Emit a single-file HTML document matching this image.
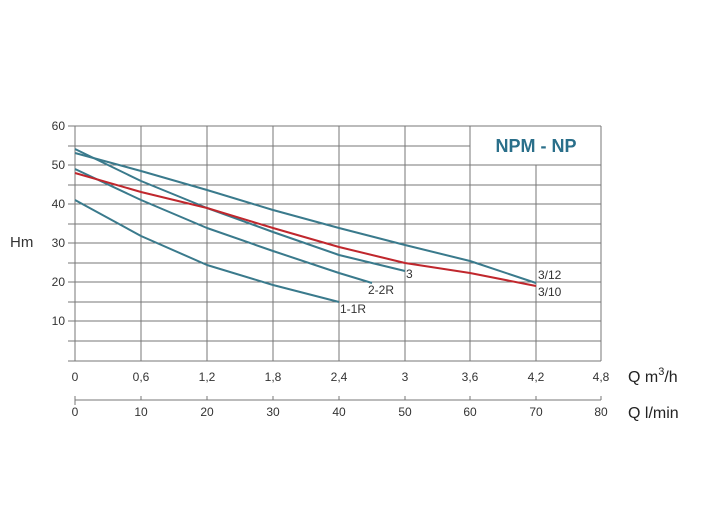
<!DOCTYPE html>
<html><head><meta charset="utf-8"><style>body{margin:0;background:#fff}svg{display:block;font-family:"Liberation Sans",sans-serif}</style></head><body>
<svg width="704" height="528" viewBox="0 0 704 528">
<g stroke="#777" stroke-width="1" fill="none">
<path d="M68 126H601M68 146H470M68 165H601M68 185H601M68 204H601M68 224H601M68 243H601M68 263H601M68 282H601M68 302H601M68 321H601M68 341H601M68 361H601"/>
<path d="M75 126V361M141 126V361M207 126V361M273 126V361M339 126V361M405 126V361M470 126V361M536 165V361M601 126V361"/>
<path d="M75 400H601M75 396V405M141 396V400M207 396V400M273 396V400M339 396V400M405 396V400M470 396V400M536 396V400M601 396V400"/>
</g>
<g font-size="12" fill="#333" text-anchor="end">
<text x="65" y="130">60</text><text x="65" y="169">50</text><text x="65" y="208">40</text><text x="65" y="247">30</text><text x="65" y="286">20</text><text x="65" y="325">10</text>
</g>
<text x="10" y="247" font-size="15" fill="#333">Hm</text>
<g font-size="12" fill="#333" text-anchor="middle">
<text x="75" y="381">0</text><text x="141" y="381">0,6</text><text x="207" y="381">1,2</text><text x="273" y="381">1,8</text><text x="339" y="381">2,4</text><text x="405" y="381">3</text><text x="470" y="381">3,6</text><text x="536" y="381">4,2</text><text x="601" y="381">4,8</text>
<text x="75" y="416">0</text><text x="141" y="416">10</text><text x="207" y="416">20</text><text x="273" y="416">30</text><text x="339" y="416">40</text><text x="405" y="416">50</text><text x="470" y="416">60</text><text x="536" y="416">70</text><text x="601" y="416">80</text>
</g>
<text x="628" y="382" font-size="16" fill="#222">Q m<tspan font-size="11" dy="-7">3</tspan><tspan dy="7">/h</tspan></text>
<text x="628" y="418" font-size="16" fill="#222">Q l/min</text>
<text x="536" y="152" font-size="18" font-weight="bold" fill="#2a6f8a" text-anchor="middle">NPM - NP</text>
<g fill="none" stroke="#3a7a8c" stroke-width="2" stroke-linejoin="round">
<path d="M75 153 L141 171 L207 190 L273 210 L339 228 L405 245 L470 261 L536 283"/>
<path d="M75 149 L141 181 L207 208 L273 232 L339 255 L405 271"/>
<path d="M75 169 L141 200 L207 228 L273 251 L339 273 L372 283"/>
<path d="M75 200 L141 236 L207 265 L273 285 L339 302"/>
</g>
<path d="M75 173 L141 192 L207 208 L273 228 L339 247 L405 263 L470 273 L536 286" fill="none" stroke="#c0272d" stroke-width="2" stroke-linejoin="round"/>
<g font-size="12" fill="#333">
<text x="538" y="279">3/12</text><text x="538" y="296">3/10</text><text x="406" y="278">3</text><text x="368" y="294">2-2R</text><text x="340" y="313">1-1R</text>
</g>
</svg></body></html>
